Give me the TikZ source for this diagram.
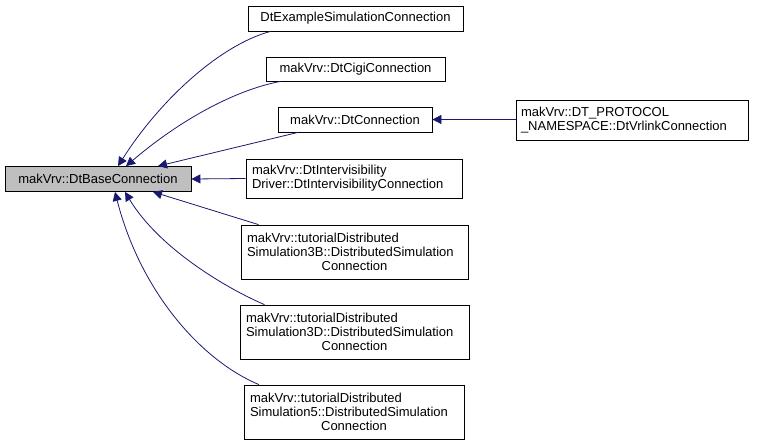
\documentclass[tikz,border=0pt]{standalone}
\usepackage{fontspec}
\setmainfont{Liberation Sans}
\usetikzlibrary{arrows.meta}
\definecolor{edgeblue}{RGB}{25,25,112}
\definecolor{basegray}{RGB}{191,191,191}
\newcommand{\lline}[1]{\makebox[\linewidth][l]{#1}}

\begin{document}
\begin{tikzpicture}[x=1pt,y=-1pt,
	cls/.style={draw,inner sep=0pt,font=\fontsize{13}{14}\selectfont,line width=0.8pt},
	inh/.style={draw=edgeblue,line width=0.8pt,{Triangle[length=9pt,width=9pt,fill=edgeblue]}-}]
\useasboundingbox (0,0) rectangle (760,445);
	% classes
	\node[cls,fill=basegray,minimum width=186pt,minimum height=25pt] (Base) at (98,179) {makVrv::DtBaseConnection};
	\node[cls,minimum width=215pt,minimum height=25pt] (Ex) at (355.5,18.5) {DtExampleSimulationConnection};
	\node[cls,minimum width=179pt,minimum height=24pt] (Cigi) at (355.5,69) {makVrv::DtCigiConnection};
	\node[cls,minimum width=154pt,minimum height=25pt] (Conn) at (355,119.5) {makVrv::DtConnection};
	\node[cls,minimum width=232pt,minimum height=40pt,text width=222pt,align=left] (Vrl) at (632,120) {makVrv::DT\_PROTOCOL\\\_NAMESPACE::DtVrlinkConnection};
	\node[cls,minimum width=216pt,minimum height=39pt,text width=204pt,align=left] (Ivis) at (354,178.5) {makVrv::DtIntervisibility\\Driver::DtIntervisibilityConnection};
	\node[cls,minimum width=227pt,minimum height=54pt,text width=215pt,align=center] (S3B) at (354.5,252) {\lline{makVrv::tutorialDistributed}\\\lline{Simulation3B::DistributedSimulation}\\Connection};
	\node[cls,minimum width=229pt,minimum height=54pt,text width=217pt,align=center] (S3D) at (354.5,332) {\lline{makVrv::tutorialDistributed}\\\lline{Simulation3D::DistributedSimulation}\\Connection};
	\node[cls,minimum width=220pt,minimum height=54pt,text width=208pt,align=center] (S5) at (354,412) {\lline{makVrv::tutorialDistributed}\\\lline{Simulation5::DistributedSimulation}\\Connection};
	% inheritance
	\draw[inh] ([xshift=20pt]Base.north) .. controls (160,100) and (220,45) .. ([xshift=-85pt]Ex.south);
	\draw[inh] ([xshift=28pt]Base.north) .. controls (180,120) and (235,90) .. ([xshift=-75pt]Cigi.south);
	\draw[inh] ([xshift=60pt]Base.north) -- ([xshift=-57pt]Conn.south);
	\draw[inh] (Base.east) -- (Ivis.west);
	\draw[inh] ([xshift=55pt]Base.south) -- ([xshift=-96pt]S3B.north);
	\draw[inh] ([xshift=27pt]Base.south) .. controls (160,250) and (230,290) .. ([xshift=-90pt]S3D.north);
	\draw[inh] ([xshift=17pt]Base.south) .. controls (140,290) and (200,360) .. ([xshift=-95pt]S5.north);
	\draw[inh] (Conn.east) -- (Vrl.west |- Conn.east);
\end{tikzpicture}
\end{document}
